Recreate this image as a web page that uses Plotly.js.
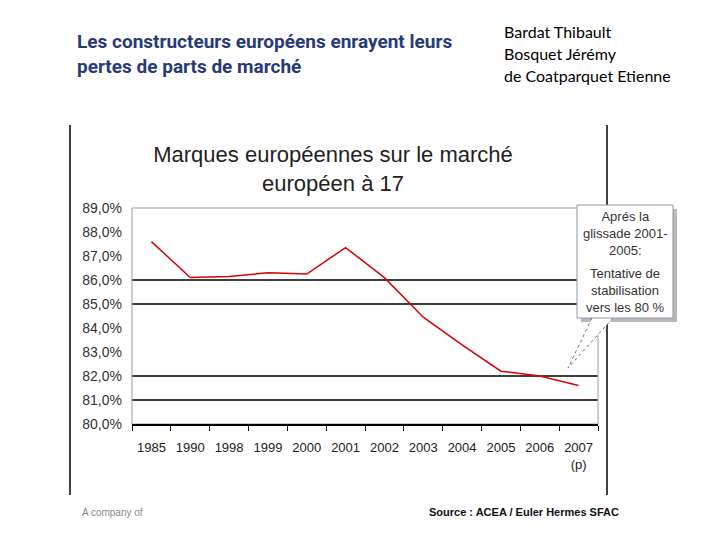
<!DOCTYPE html>
<html>
<head>
<meta charset="utf-8">
<script src="https://cdn.plot.ly/plotly-3.0.1.min.js"></script>
<style>html,body{margin:0;padding:0;background:#fff;}#chart{width:720px;height:540px;}</style>
</head>
<body>
<div id="chart"></div>
<script>
// ---- data ----
const years = ['1985','1990','1998','1999','2000','2001','2002','2003','2004','2005','2006','2007'];
const tickLabels = ['1985','1990','1998','1999','2000','2001','2002','2003','2004','2005','2006','2007<br>(p)'];
const shares = [87.6, 86.1, 86.15, 86.3, 86.25, 87.35, 86.1, 84.45, 83.3, 82.2, 82.0, 81.6];
const gridLevelsShort = [86, 85];
const gridLevelsFull = [82, 81];

// ---- layout geometry (pixels of the plot area) ----
const L = 132, R = 598, T = 208, B = 424, W = 720, H = 540;
const px = x => (x - L) / (R - L);
const py = y => (B - y) / (B - T);

const trace = {
  type: 'scatter', mode: 'lines', x: years, y: shares,
  line: {color: 'rgb(220,0,0)', width: 1.5}, hoverinfo: 'skip'
};

const shapes = [];
gridLevelsShort.forEach(v => shapes.push({type:'line', xref:'paper', yref:'y', x0:0, x1:px(577), y0:v, y1:v, line:{color:'#000', width:1.3}, layer:'below'}));
gridLevelsFull.forEach(v => shapes.push({type:'line', xref:'paper', yref:'y', x0:0, x1:1, y0:v, y1:v, line:{color:'#000', width:1.3}, layer:'below'}));
// plot frame
shapes.push({type:'rect', xref:'paper', yref:'paper', x0:0, x1:1, y0:0, y1:1, line:{color:'#9a9a9a', width:1}, layer:'below'});
// outer chart frame lines
shapes.push({type:'line', xref:'paper', yref:'paper', x0:px(70), x1:px(70), y0:py(125), y1:py(495), line:{color:'#000', width:1.5}, layer:'above'});
shapes.push({type:'line', xref:'paper', yref:'paper', x0:px(607), x1:px(607), y0:py(125), y1:py(495), line:{color:'#000', width:1.5}, layer:'above'});
// callout shadow
shapes.push({type:'rect', xref:'paper', yref:'paper', x0:px(581), x1:px(677), y0:py(322), y1:py(209), fillcolor:'#b8b8b8', line:{width:0}, layer:'above'});
// callout body with wedge
const P = (x,y) => px(x).toFixed(5) + ',' + py(y).toFixed(5);
shapes.push({type:'path', xref:'paper', yref:'paper',
  path: 'M' + P(577,205) + ' L' + P(673,205) + ' L' + P(673,318) + ' L' + P(613,318) + ' L' + P(568,368) + ' L' + P(592,318) + ' L' + P(577,318) + ' Z',
  fillcolor:'#ffffff', line:{width:0}, layer:'above'});
shapes.push({type:'rect', xref:'paper', yref:'paper', x0:px(577), x1:px(673), y0:py(318), y1:py(205), line:{color:'#8d98a8', width:1}, layer:'above'});
shapes.push({type:'line', xref:'paper', yref:'paper', x0:px(592), x1:px(568), y0:py(318), y1:py(368), line:{color:'#6a7484', width:1, dash:'dot'}, layer:'above'});
shapes.push({type:'line', xref:'paper', yref:'paper', x0:px(613), x1:px(568), y0:py(318), y1:py(368), line:{color:'#6a7484', width:1, dash:'dot'}, layer:'above'});

const ann = (text, x, y, font, xanchor, extra) => Object.assign({
  text, xref:'paper', yref:'paper', x: px(x), y: py(y), xanchor: xanchor || 'left', yanchor:'middle',
  showarrow:false, font, align: xanchor === 'center' ? 'center' : 'left'
}, extra || {});

const slideFont = {family:'"Liberation Sans Narrow", "Arial Narrow", Roboto, Arial, sans-serif', size:19, color:'#28397a', weight:'bold'};
const authorFont = {family:'Lato, Carlito, Calibri, "Open Sans", sans-serif', size:16, color:'#000'};
const calloutFont = {family:'Arial, "Liberation Sans", sans-serif', size:13, color:'#333'};
const annotations = [
  ann('Les constructeurs européens enrayent leurs', 75, 42, slideFont),
  ann('pertes de parts de marché', 75, 66, slideFont),
  ann('Bardat Thibault', 502, 31, authorFont),
  ann('Bosquet Jérémy', 502, 53, authorFont),
  ann('de Coatparquet Etienne', 502, 75, authorFont),
  ann('Aprés la<br>glissade 2001-<br>2005:', 625, 233, calloutFont, 'center'),
  ann('Tentative de<br>stabilisation<br>vers les 80 %', 625, 290, calloutFont, 'center'),
  ann('A company of', 80, 512, {family:'"Liberation Sans Narrow", Arial, sans-serif', size:10, color:'#888'}),
  ann('Source : ACEA / Euler Hermes SFAC', 621, 512, {family:'Arial, "Liberation Sans", sans-serif', size:11, color:'#111', weight:'bold'}, 'right')
];

const layout = {
  width: W, height: H,
  margin: {l: L, r: W - R, t: T, b: H - B, pad: 0},
  paper_bgcolor:'#fff', plot_bgcolor:'#fff',
  separators: ', ',
  showlegend: false,
  title: {
    text: 'Marques européennes sur le marché<br>européen à 17',
    xref:'container', yref:'container', x: 333 / W, y: 1 - 162 / H, xanchor:'center', yanchor:'middle',
    font: {family:'Arial, "Liberation Sans", sans-serif', size:22, color:'#222'}
  },
  xaxis: {
    type:'category', tickvals: years, ticktext: tickLabels, range:[-0.5, years.length - 0.5],
    showline:true, linecolor:'#000', linewidth:1.5, mirror:false, tickangle:0,
    ticks:'outside', tickson:'boundaries', ticklen:5, tickcolor:'#000', tickwidth:1,
    showgrid:false, zeroline:false, ticklabelstandoff: 11,
    tickfont:{family:'Arial, "Liberation Sans", sans-serif', size:13, color:'#222'}
  },
  yaxis: {
    range:[80, 89], dtick:1, tick0:80, tickformat:'.1f', ticksuffix:'%',
    showline:false, showgrid:false, zeroline:false, ticks:'', ticklabelstandoff: 9,
    tickfont:{family:'Arial, "Liberation Sans", sans-serif', size:14, color:'#333'}
  },
  shapes, annotations
};

Plotly.newPlot('chart', [trace], layout, {staticPlot:true, displayModeBar:false});
</script>
</body>
</html>
